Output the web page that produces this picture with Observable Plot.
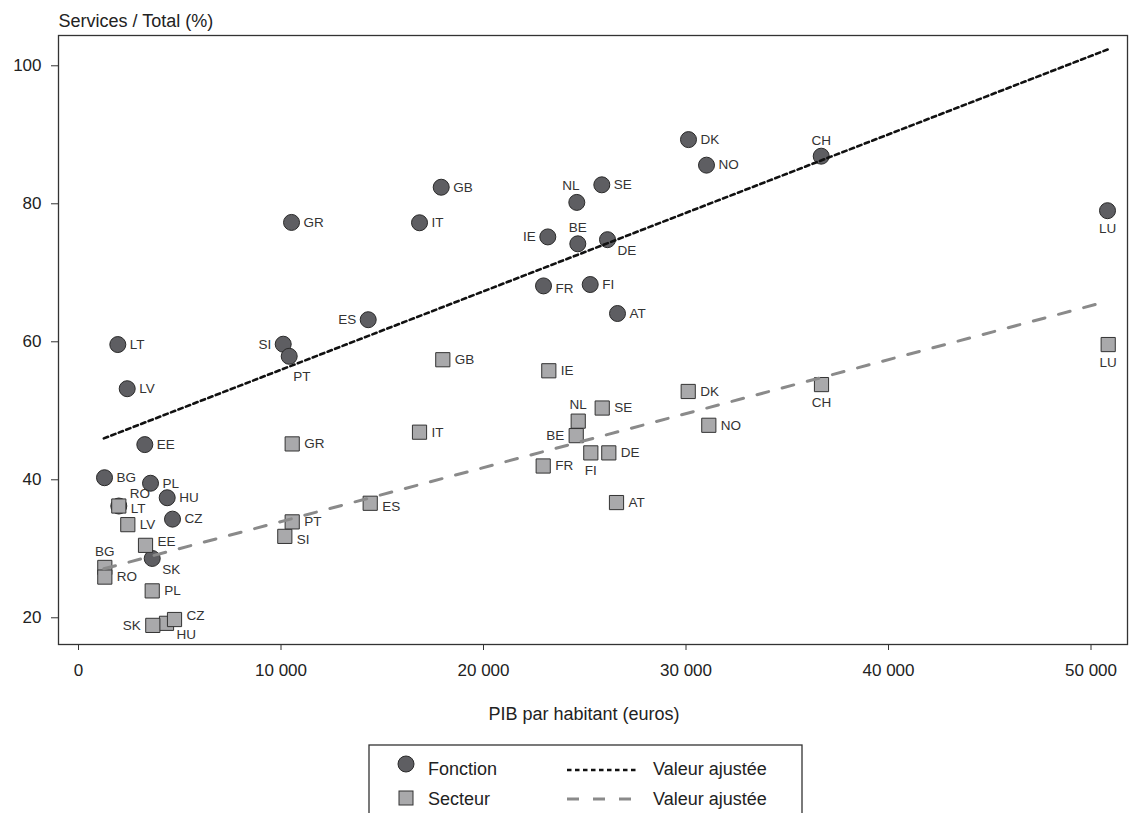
<!DOCTYPE html>
<html>
<head>
<meta charset="utf-8">
<script src="https://cdn.jsdelivr.net/npm/d3@7"></script>
<script src="https://cdn.jsdelivr.net/npm/@observablehq/plot@0.6"></script>
<style>
  html, body { margin: 0; padding: 0; background: white; }
  #wrap { position: relative; width: 1132px; height: 813px; overflow: hidden; font-family: "Liberation Sans", Arial, sans-serif; }
</style>
</head>
<body>
<div id="wrap"></div>
<script>
// ---- data ----
const countries = ["LU","CH","DK","NO","SE","NL","GB","GR","IT","IE","BE","DE","FR","FI","AT","ES","SI","PT","LT","LV","EE","BG","PL","HU","CZ","SK","RO"];
// PIB par habitant (euros) for the "Fonction" markers
const gdpFonction = [50815,36677,30123,31012,25842,24607,17911,10519,16840,23175,24657,26123,22963,25269,26617,14306,10109,10405,1941,2405,3274,1284,3556,4380,4642,3640,1990];
// Services / Total (%) - Fonction
const shareFonction = [79.0,86.9,89.3,85.6,82.75,80.2,82.4,77.3,77.25,75.2,74.2,74.8,68.1,68.3,64.1,63.2,59.65,57.9,59.6,53.2,45.1,40.3,39.5,37.4,34.3,28.6,36.2];
// PIB par habitant (euros) for the "Secteur" markers
const gdpSecteur = [50849,36691,30109,31126,25862,24677,17990,10553,16840,23225,24578,26188,22948,25299,26568,14405,10188,10553,1990,2435,3309,1299,3640,4346,4741,3669,1299];
// Services / Total (%) - Secteur
const shareSecteur = [59.6,53.8,52.8,47.9,50.4,48.5,57.4,45.2,46.9,55.8,46.4,43.9,42.0,43.9,36.7,36.6,31.8,33.9,36.2,33.5,30.5,27.3,23.9,19.2,19.75,18.9,25.9];
// label placement (clock positions; u/d = slightly up/down)
const labelPosFonction = ["6","12","3","3","3","11","3","3","3","9","12","4","3d","3","3","9","9","5","3","3","3","3","3","3","3","4","2"];
const labelPosSecteur  = ["6","6","3","3","3","12","3","3","3","3","9","3","3","6","3","3d","3d","3","3d","3","3u","12","3","4","3u","9","3"];
// fitted values (end points of the two fitted lines)
const fitX = [1250, 50850];
const fitFonction = [46.0, 102.4];
const fitSecteur = [27.1, 65.9];
// axis ticks
const xTicks = [0, 10000, 20000, 30000, 40000, 50000];
const yTicks = [20, 40, 60, 80, 100];

const FONT = "Liberation Sans, Arial, Helvetica, sans-serif";

const fonction = countries.map((c, i) => ({c, x: gdpFonction[i], y: shareFonction[i], pos: labelPosFonction[i]}));
const secteur = countries.map((c, i) => ({c, x: gdpSecteur[i], y: shareSecteur[i], pos: labelPosSecteur[i]}));
const fitF = fitX.map((x, i) => ({x, y: fitFonction[i]}));
const fitS = fitX.map((x, i) => ({x, y: fitSecteur[i]}));

const offsets = {
  "3":  {dx: 12, dy: 0, textAnchor: "start"},
  "3u": {dx: 12, dy: -4, textAnchor: "start"},
  "3d": {dx: 12, dy: 3, textAnchor: "start"},
  "9":  {dx: -12, dy: 0, textAnchor: "end"},
  "12": {dx: 0, dy: -16, textAnchor: "middle"},
  "6":  {dx: 0, dy: 18, textAnchor: "middle"},
  "4":  {dx: 10, dy: 11, textAnchor: "start"},
  "5":  {dx: 4, dy: 20, textAnchor: "start"},
  "2":  {dx: 11, dy: -12, textAnchor: "start"},
  "11": {dx: -6, dy: -17, textAnchor: "middle"}
};

function labels(data) {
  return Object.keys(offsets).map(k => Plot.text(data.filter(d => d.pos === k), {
    x: "x", y: "y", text: "c", ...offsets[k], fontSize: 13.5, fill: "#333"
  }));
}

const fmt = d => d3.format(",")(d).replace(/,/g, " ");

const chart = Plot.plot({
  width: 1132,
  height: 740,
  marginTop: 35,
  marginLeft: 58,
  marginRight: 5,
  marginBottom: 96,
  style: {fontFamily: FONT, fontSize: "17px", color: "#222", background: "white"},
  x: {domain: [-988, 51802]},
  y: {domain: [16.13, 104.39]},
  marks: [
    Plot.axisX({ticks: xTicks, tickSize: 6, tickPadding: 13, tickFormat: fmt, label: null, fontSize: 17, stroke: "#333"}),
    Plot.axisY({ticks: yTicks, tickSize: 7, tickPadding: 10, label: null, fontSize: 17, stroke: "#333"}),
    Plot.dot(fonction, {x: "x", y: "y", r: 8, fill: "#5e5e62", stroke: "#2a2a2a", strokeWidth: 1}),
    Plot.dot(secteur, {x: "x", y: "y", r: 8, symbol: "square", fill: "#a9a9ab", stroke: "#333", strokeWidth: 1}),
    Plot.line(fitF, {x: "x", y: "y", stroke: "#111", strokeWidth: 2.6, strokeDasharray: "4.5,3.5"}),
    Plot.line(fitS, {x: "x", y: "y", stroke: "#8a8a8a", strokeWidth: 3, strokeDasharray: "12,14"}),
    ...labels(fonction),
    ...labels(secteur),
    Plot.frame({stroke: "#333", strokeWidth: 1.3}),
    Plot.text(["Services / Total (%)"], {text: d => d, frameAnchor: "top-left", lineAnchor: "middle", dy: -14, textAnchor: "start", fontSize: 18, fill: "#222"}),
    Plot.text(["PIB par habitant (euros)"], {text: d => d, frameAnchor: "bottom", lineAnchor: "middle", dy: 70, dx: -9, fontSize: 18, fill: "#222"})
  ]
});

const wrap = document.getElementById("wrap");
wrap.appendChild(chart);

// legend (below the chart)
const leg = d3.create("svg").attr("width", 1132).attr("height", 813)
  .style("position", "absolute").style("left", "0px").style("top", "0px")
  .style("font-family", FONT);
leg.append("rect").attr("x", 369).attr("y", 745).attr("width", 433).attr("height", 100)
  .attr("fill", "white").attr("stroke", "#333").attr("stroke-width", 1.3);
leg.append("circle").attr("cx", 406).attr("cy", 764).attr("r", 8)
  .attr("fill", "#5e5e62").attr("stroke", "#2a2a2a");
leg.append("rect").attr("x", 399).attr("y", 791).attr("width", 14).attr("height", 14)
  .attr("fill", "#a9a9ab").attr("stroke", "#333");
leg.append("text").attr("x", 428).attr("y", 769).attr("dy", "0.35em").attr("font-size", 18).attr("fill", "#222").text("Fonction");
leg.append("text").attr("x", 428).attr("y", 799).attr("dy", "0.35em").attr("font-size", 18).attr("fill", "#222").text("Secteur");
leg.append("line").attr("x1", 567).attr("x2", 637).attr("y1", 770).attr("y2", 770)
  .attr("stroke", "#111").attr("stroke-width", 2.6).attr("stroke-dasharray", "4.5,3.5");
leg.append("line").attr("x1", 567).attr("x2", 637).attr("y1", 799).attr("y2", 799)
  .attr("stroke", "#8a8a8a").attr("stroke-width", 3).attr("stroke-dasharray", "12,14");
leg.append("text").attr("x", 653).attr("y", 769).attr("dy", "0.35em").attr("font-size", 18).attr("fill", "#222").text("Valeur ajustée");
leg.append("text").attr("x", 653).attr("y", 799).attr("dy", "0.35em").attr("font-size", 18).attr("fill", "#222").text("Valeur ajustée");
wrap.appendChild(leg.node());
</script>
</body>
</html>
